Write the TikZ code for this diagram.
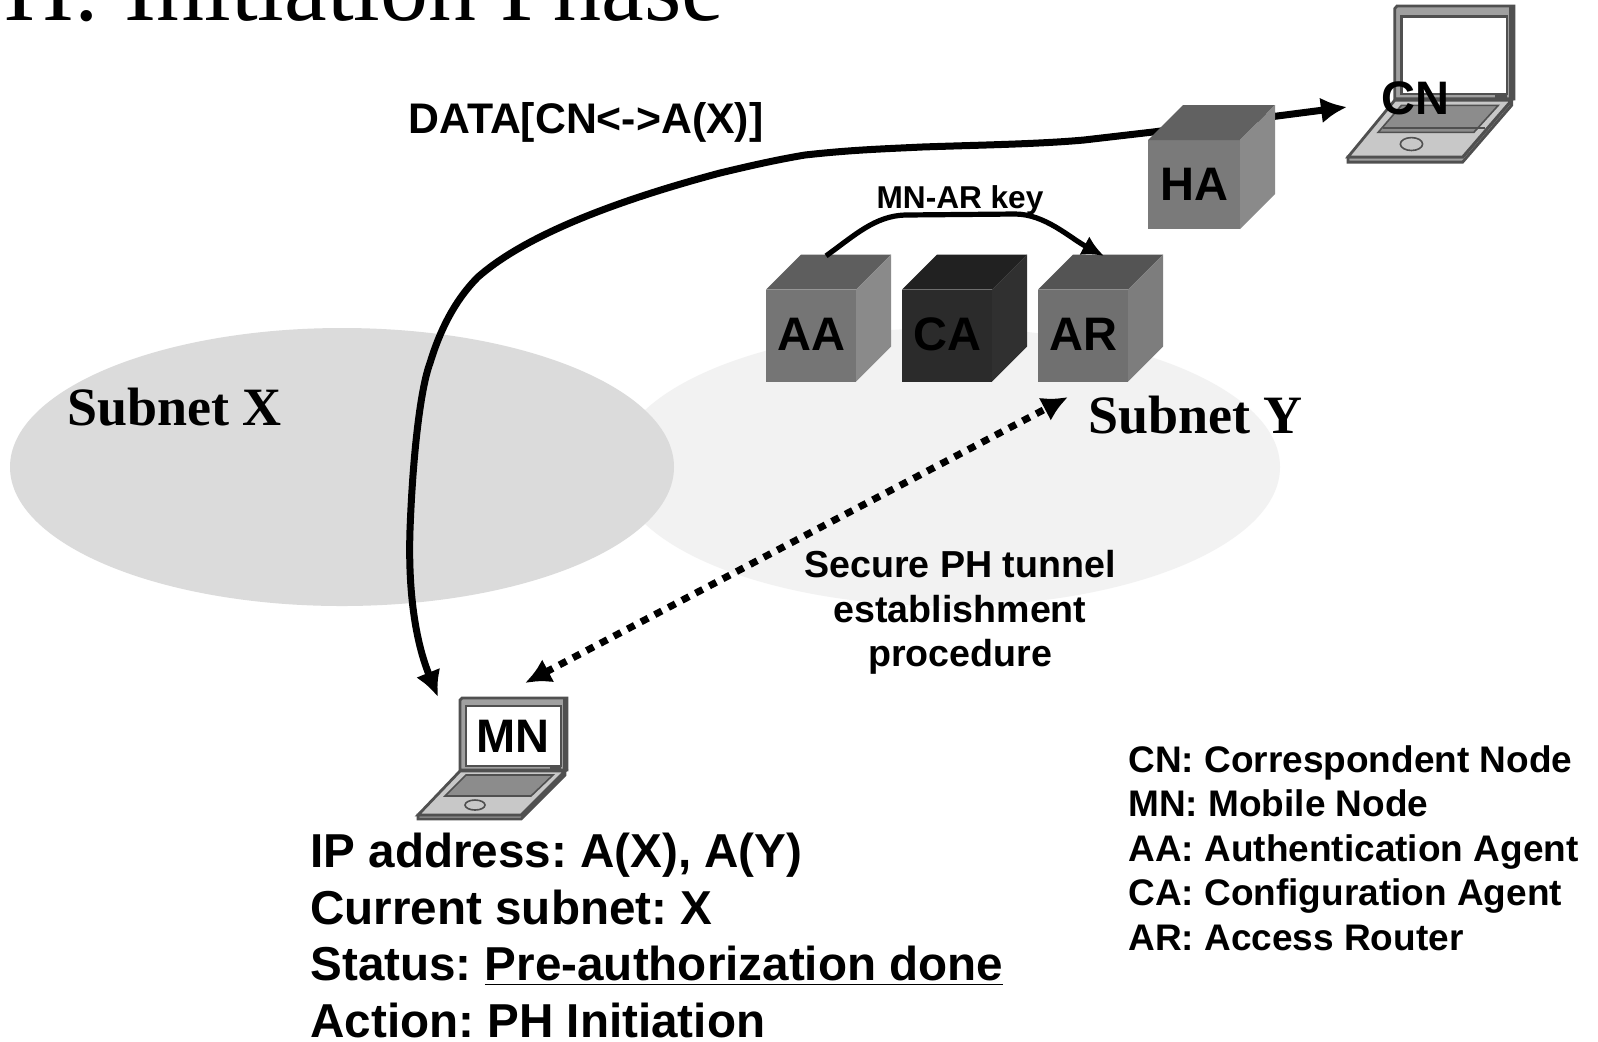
\documentclass[tikz,border=0pt]{standalone}
\usepackage{fontspec}
\setmainfont{Liberation Sans}
\newfontfamily\serifface{Liberation Serif}
\frenchspacing
\usetikzlibrary{arrows.meta,shapes}
\tikzstyle{subnet} = [ellipse, inner sep=0pt, minimum width=332pt, minimum height=139pt]
\tikzstyle{subnetname} = [font=\serifface\bfseries\fontsize{27}{32}\selectfont, inner sep=0pt, anchor=base west]
\tikzstyle{cubename} = [font=\bfseries\fontsize{23.5}{28}\selectfont, inner sep=0pt, text=black]
\tikzstyle{laptopname} = [font=\bfseries\fontsize{23.5}{28}\selectfont, inner sep=0pt]
\tikzstyle{smalltext} = [font=\bfseries\fontsize{18.8}{22.25}\selectfont, inner sep=0pt]
\tikzstyle{bigtext} = [font=\bfseries\fontsize{23.8}{28.25}\selectfont, inner sep=0pt]
\tikzset{
  cube/.style n args={3}{inner sep=0pt, minimum width=62.5pt, minimum height=63.5pt,
    path picture={
      \fill [#1] (path picture bounding box.south west) rectangle
        ([shift={(-35,35)}]path picture bounding box.north east);
      \fill [#2] ([shift={(0,35)}]path picture bounding box.north west)
        -- ([shift={(35,0)}]path picture bounding box.north west)
        -- (path picture bounding box.north east)
        -- ([shift={(-35,35)}]path picture bounding box.north east) -- cycle;
      \fill [#3] (path picture bounding box.north east)
        -- ([shift={(0,-35)}]path picture bounding box.south east)
        -- ([shift={(-35,0)}]path picture bounding box.south east)
        -- ([shift={(-35,35)}]path picture bounding box.north east) -- cycle;
    }},
  lid/.style={draw=laptopline, line width=1.4pt, fill=laptoplid},
  deck/.style={draw=laptopline, line width=1.4pt, fill=laptopdeck},
  keys/.style={draw=laptopline, line width=0.8pt, fill=laptopkeys}
}
\definecolor{laptopline}{HTML}{505050}
\definecolor{laptoplid}{HTML}{A0A0A0}
\definecolor{laptopdeck}{HTML}{C8C8C8}
\definecolor{laptopkeys}{HTML}{8C8C8C}
\newcommand{\laptop}[4]{
  \begin{scope}[shift={(#1,#2)}, xscale=#3, yscale=#4]
    \draw [lid] (42,2) -- (44,0) -- (149,0) -- (149,72) -- (42,72) -- cycle;
    \fill [laptopline] (145,0) rectangle (149,72);
    \draw [draw=laptopline, line width=1.2pt, fill=white] (48,8) rectangle (143,68);
    \fill [laptopline] (132,68) rectangle (143,72);
    \draw [deck, fill=laptoplid] (0,117) -- (103,117) -- (147,73) -- (147,77) -- (103,121) -- (0,121) -- cycle;
    \draw [deck] (42,73) -- (147,73) -- (103,117) -- (0,117) -- cycle;
    \draw [keys] (48,77) -- (135,77) -- (113,98) -- (27,98) -- cycle;
    \draw [keys, fill=laptopdeck] (57,107) ellipse (10 and 5);
  \end{scope}
}
\begin{document}
\begin{tikzpicture}[x=0.5pt, y=-0.5pt]
  \clip (0,0) rectangle (1598,1041);
  \fill [white] (0,0) rectangle (1598,1041);
  % Place nodes
  \node [subnet, fill=black!5] (subnetY) at (948,467) {};
  \node [subnet, fill=black!14] (subnetX) at (342,467) {};
  \node [subnetname] (nameX) at (67,425) {Subnet X};
  \node [subnetname] (nameY) at (1088,433) {Subnet Y};
  \node [anchor=base west, inner sep=0pt, font=\serifface\fontsize{48}{56}\selectfont] (title) at (4,20) {H: Initiation Phase};
  \laptop{1348}{6}{1.113}{1.29}
  \draw [keys, line width=0.6pt] (1383,128) -- (1485,128);
  \laptop{418}{698}{1}{1}
  \node [laptopname] (CN) at (1415,98) {CN};
  \node [laptopname] (MN) at (513,736) {MN};
  \coordinate (cnend) at (1347,107);
  \coordinate (mnend) at (438,697);
  \coordinate (mnport) at (525,683);
  \coordinate (arport) at (1068,397);
  % Connect
  \draw [line width=3.5pt, {Latex[length=13pt,width=13pt]}-{Latex[length=13pt,width=13pt]}] (mnend)
    .. controls (415,640) and (408,590) .. (410,530)
    .. controls (413,450) and (421,387) .. (430,363)
    .. controls (440,330) and (455,300) .. (478,277)
    .. controls (520,240) and (600,205) .. (720,173)
    .. controls (745,167) and (775,160) .. (805,155)
    .. controls (850,150) and (880,149) .. (922,147)
    .. controls (980,145) and (1040,144) .. (1084,140)
    -- (1153,132) -- (cnend);
  \draw [line width=3.5pt, dash pattern=on 4pt off 3.7pt, {Latex[length=13pt,width=13pt]}-{Latex[length=13pt,width=13pt]}] (mnport) -- (arport);
  % Cubes
  \node [cube={black!54}{black!63}{black!46}, label={[cubename, xshift=-8.5pt, yshift=-8pt]center:AA}] (AA) at (828.5,318) {};
  \node [cube={black!83}{black!87}{black!81}, label={[cubename, xshift=-8.5pt, yshift=-8pt]center:CA}] (CA) at (964.5,318) {};
  \node [cube={black!56}{black!67}{black!51}, label={[cubename, xshift=-8.5pt, yshift=-8pt]center:AR}] (AR) at (1100.5,318) {};
  \node [cube={black!52}{black!62}{black!46}, minimum width=63.5pt, minimum height=62pt, label={[cubename, xshift=-8.5pt, yshift=-8.5pt]center:HA}] (HA) at (1211.5,167) {};
  \draw [line width=2.6pt, shorten <=-1.5pt, shorten >=-2pt, -{Latex[length=11pt,width=10.5pt]}] (AA.north)
    .. controls (855,235) and (875,216) .. (905,215) -- (1015,214)
    .. controls (1045,214) and (1070,238) .. (AR.north);
  % Labels
  \node [smalltext, anchor=base west, font=\bfseries\fontsize{21.4}{25}\selectfont] (datalabel) at (408,133) {DATA[CN<->A(X)]};
  \node [smalltext, anchor=base, font=\bfseries\fontsize{15.8}{19}\selectfont] (keylabel) at (960,208) {MN-AR key};
  \node [smalltext, align=center, anchor=north] (tunnel) at (960,550) {Secure PH tunnel\\establishment\\procedure};
  \node [smalltext, align=left, anchor=north west, font=\bfseries\fontsize{18.5}{22.25}\selectfont] (legend) at (1128,745) {CN: Correspondent Node\\MN: Mobile Node\\AA: Authentication Agent\\CA: Configuration Agent\\AR: Access Router};
  \node [bigtext, align=left, anchor=north west] (status) at (310,833) {IP address: A(X), A(Y)\\Current subnet: X\\Status: \underline{Pre-authorization done}\\Action: PH Initiation};
\end{tikzpicture}
\end{document}
